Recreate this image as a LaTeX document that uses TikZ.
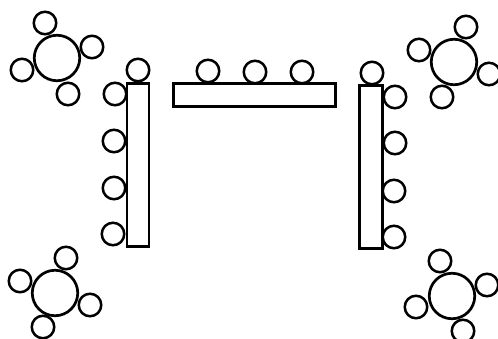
\documentclass[tikz,border=0pt]{standalone}

\begin{document}
\begin{tikzpicture}[x=1pt, y=-1pt,
    seat/.style={draw, circle, line width=2.5pt, inner sep=0pt, outer sep=0pt, minimum size=22.5pt},
    roundTable/.style={draw, circle, line width=2.7pt, inner sep=0pt, outer sep=0pt, minimum size=45.5pt},
    longTable/.style={draw, rectangle, line width=2.7pt, inner sep=0pt, outer sep=0pt}]

    % Fix the page size
    \useasboundingbox (0,0) rectangle (498,338);

    % Draw the long tables
    \node[longTable, minimum width=22pt, minimum height=163pt] (tableLeft) at (138,164.7) {};
    \node[longTable, minimum width=162pt, minimum height=23.5pt] (tableTop) at (254.5,95) {};
    \node[longTable, minimum width=23pt, minimum height=163.5pt] (tableRight) at (371,167) {};

    % Draw the round tables
    \foreach \x/\y/\name in {57/58/roundA, 454/62/roundB, 55/293/roundC, 452/296/roundD}
        \node[roundTable] (\name) at (\x,\y) {};

    % Draw the seats at the long tables
    \foreach \x/\y/\name in {138/70/leftA, 115/94/leftB, 114/141/leftC, 114/188/leftD, 113/234/leftE,
                             208/71/topA, 255/72/topB, 302/72/topC,
                             372/73/rightA, 395/97/rightB, 395/143/rightC, 394/191/rightD, 394/237/rightE}
        \node[seat] (\name) at (\x,\y) {};

    % Draw the seats at the round tables
    \foreach \x/\y/\name in {45/23/seatAa, 92/47/seatAb, 22/70/seatAc, 68/94/seatAd,
                             466/27/seatBa, 419/50/seatBb, 489/74/seatBc, 442/97/seatBd,
                             66/258/seatCa, 20/281/seatCb, 90/305/seatCc, 43/327/seatCd,
                             440/261/seatDa, 487/285/seatDb, 416/307/seatDc, 463/331/seatDd}
        \node[seat] (\name) at (\x,\y) {};

\end{tikzpicture}
\end{document}
